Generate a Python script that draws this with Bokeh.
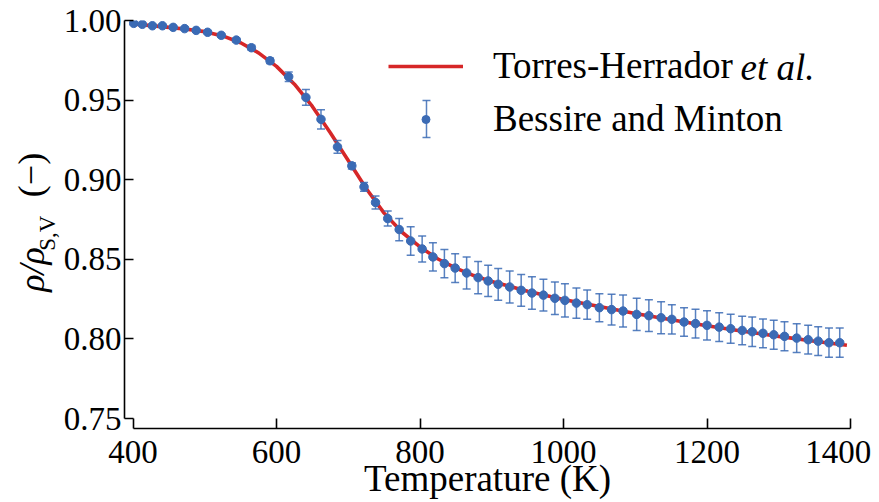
from bokeh.plotting import figure
from bokeh.models import (ColumnDataSource, Whisker, TeeHead, Label, Legend, LegendItem,
                          Range1d, FixedTicker, NumeralTickFormatter, LinearAxis)
from bokeh.embed import file_html
from bokeh.resources import INLINE

# ---- data ----
temp_K = [401, 413, 427, 441, 456, 472, 488, 504, 523, 544,
          565, 591, 617, 641, 662, 685, 705, 722, 738, 755,
          771, 787, 803, 818, 834, 849, 865, 881, 895, 909,
          925, 941, 956, 972, 988, 1002, 1018, 1033, 1050, 1067,
          1083, 1102, 1119, 1136, 1151, 1168, 1184, 1200, 1217, 1233,
          1249, 1263, 1278, 1293, 1308, 1325, 1341, 1355, 1370, 1385]
rho_ratio = [0.9982, 0.9976, 0.9967, 0.9967, 0.9957, 0.9949, 0.9938, 0.9926, 0.9907, 0.9877,
             0.9829, 0.9747, 0.9647, 0.9517, 0.9379, 0.9206, 0.9087, 0.8955, 0.8857, 0.8756,
             0.8687, 0.8615, 0.8565, 0.8515, 0.8473, 0.8445, 0.8414, 0.8385, 0.8364, 0.8343,
             0.8326, 0.8305, 0.8288, 0.8275, 0.8255, 0.8242, 0.8225, 0.8215, 0.8196, 0.8184,
             0.8175, 0.8154, 0.8146, 0.8133, 0.8123, 0.8106, 0.8096, 0.8085, 0.8074, 0.8064,
             0.8053, 0.8045, 0.8035, 0.8026, 0.8016, 0.8005, 0.7995, 0.7986, 0.7976, 0.7976]
rho_err = [0.0008, 0.0008, 0.0008, 0.0008, 0.0008, 0.0008, 0.0008, 0.0010, 0.0010, 0.0012,
           0.0015, 0.0017, 0.0030, 0.0050, 0.0061, 0.0040, 0.0020, 0.0028, 0.0041, 0.0047,
           0.0070, 0.0089, 0.0082, 0.0089, 0.0089, 0.0090, 0.0100, 0.0101, 0.0098, 0.0100,
           0.0100, 0.0100, 0.0102, 0.0100, 0.0102, 0.0105, 0.0095, 0.0092, 0.0088, 0.0096,
           0.0101, 0.0102, 0.0100, 0.0100, 0.0092, 0.0090, 0.0091, 0.0092, 0.0090, 0.0091,
           0.0090, 0.0092, 0.0090, 0.0091, 0.0091, 0.0090, 0.0090, 0.0090, 0.0092, 0.0092]

fit_T = [400, 425, 450, 475, 500, 525, 550, 575, 600, 625, 650, 675, 700, 725, 750,
         775, 800, 825, 850, 875, 900, 950, 1000, 1050, 1100, 1150, 1200, 1250, 1300, 1350, 1395]
fit_rho = [0.9978, 0.9968, 0.9957, 0.9945, 0.9930, 0.9903, 0.9860, 0.9797, 0.9712, 0.9600,
           0.9460, 0.9295, 0.9120, 0.8945, 0.8790, 0.8670, 0.8578, 0.8502, 0.8445, 0.8398,
           0.8360, 0.8300, 0.8248, 0.8203, 0.8160, 0.8120, 0.8083, 0.8048, 0.8016, 0.7985, 0.7960]

x_ticks = [400, 600, 800, 1000, 1200, 1400]
y_ticks = [0.75, 0.80, 0.85, 0.90, 0.95, 1.00]

series_fit = "Torres-Herrador"
series_fit_suffix = "et al."
series_data = "Bessire and Minton"
x_title = "Temperature (K)"
NB = "\u00a0"
# y title  rho/rho_{S,V} (-)  split into three stacked pieces
y_title_rho = "ρ/ρ" + NB * 10
y_title_sub = "S,V" + NB * 3
y_title_unit = NB * 11 + "(−)"

# ---- styling ----
FONT = "Liberation Serif"
BLUE = "#3b6bb5"
RED = "#d62728"
X0, X1 = 388.15, 1400.0
Y0, Y1 = 0.74372, 1.0

p = figure(width=879, height=502, x_range=Range1d(X0, X1), y_range=Range1d(Y0, Y1),
           output_backend="svg", toolbar_location=None,
           min_border_left=124, min_border_right=29, min_border_top=20, min_border_bottom=74)
p.outline_line_color = None
p.xgrid.grid_line_color = None
p.ygrid.grid_line_color = None
p.background_fill_color = "white"
p.border_fill_color = "white"

for ax in (p.xaxis[0], p.yaxis[0]):
    ax.axis_line_width = 1.6
    ax.major_tick_line_width = 1.6
    ax.minor_tick_line_color = None
    ax.major_tick_out = 0
    ax.major_label_text_font = FONT
    ax.major_label_text_font_size = "33px"
    ax.major_label_text_color = "black"
    ax.axis_label_text_font = FONT
    ax.axis_label_text_font_style = "normal"
    ax.axis_label_text_color = "black"

xa = p.xaxis[0]
xa.ticker = FixedTicker(ticks=x_ticks)
xa.bounds = (x_ticks[0], x_ticks[-1])
xa.major_tick_in = 10
xa.major_label_standoff = 5
xa.major_label_overrides = {x_ticks[-1]: str(x_ticks[-1]) + NB}
xa.axis_label = x_title
xa.axis_label_text_font_size = "37px"
xa.axis_label_standoff = -15

ya = p.yaxis[0]
ya.ticker = FixedTicker(ticks=y_ticks)
ya.formatter = NumeralTickFormatter(format="0.00")
ya.bounds = (y_ticks[0], y_ticks[-1])
ya.major_tick_in = 9
ya.major_label_standoff = 3
ya.axis_label = y_title_sub
ya.axis_label_text_font_size = "23px"
ya.axis_label_standoff = 1


def title_axis(text, standoff, style):
    return LinearAxis(ticker=FixedTicker(ticks=[]), axis_line_color=None,
                      major_tick_line_color=None, minor_tick_line_color=None,
                      major_tick_out=0, major_tick_in=0, major_label_standoff=0,
                      axis_label=text, axis_label_standoff=standoff,
                      axis_label_text_font=FONT, axis_label_text_font_size="36px",
                      axis_label_text_font_style=style, axis_label_text_color="black")


p.add_layout(title_axis(y_title_rho, -20, "italic"), "left")
p.add_layout(title_axis(y_title_unit, -42, "normal"), "left")

# ---- glyphs ----
src = ColumnDataSource(dict(
    T=temp_K, rho=rho_ratio,
    lower=[r - e for r, e in zip(rho_ratio, rho_err)],
    upper=[r + e for r, e in zip(rho_ratio, rho_err)],
))

fit_line = p.line(fit_T, fit_rho, line_color=RED, line_width=3.6)

whisk = Whisker(source=src, base="T", lower="lower", upper="upper", dimension="height",
                line_color=BLUE, line_alpha=0.85, line_width=1.5, level="glyph",
                upper_head=TeeHead(size=8, line_color=BLUE, line_alpha=0.85, line_width=1.5),
                lower_head=TeeHead(size=8, line_color=BLUE, line_alpha=0.85, line_width=1.5))
p.add_layout(whisk)

pts = p.scatter("T", "rho", source=src, size=8.5, fill_color=BLUE, line_color=BLUE)

# ---- legend ----
legend = Legend(items=[LegendItem(label=series_fit, renderers=[fit_line]),
                       LegendItem(label=series_data, renderers=[pts])],
                location=(264, 288), glyph_width=75, glyph_height=20, spacing=10,
                padding=0, margin=0, label_standoff=30,
                label_text_font=FONT, label_text_font_size="37px", label_text_color="black",
                border_line_color=None, background_fill_alpha=0)
p.add_layout(legend)

p.add_layout(Label(x=1246.7, y=0.97048, text=series_fit_suffix, text_font=FONT,
                   text_font_style="italic", text_font_size="37px", text_baseline="middle",
                   text_color="black"))

leg_src = ColumnDataSource(dict(b=[809.05], lo=[0.92651], hi=[0.94975]))
p.add_layout(Whisker(source=leg_src, base="b", lower="lo", upper="hi", dimension="height",
                     line_color=BLUE, line_alpha=0.85, line_width=1.5,
                     upper_head=TeeHead(size=8, line_color=BLUE, line_alpha=0.85, line_width=1.5),
                     lower_head=TeeHead(size=8, line_color=BLUE, line_alpha=0.85, line_width=1.5)))

open("out.html", "w").write(file_html(p, INLINE))
